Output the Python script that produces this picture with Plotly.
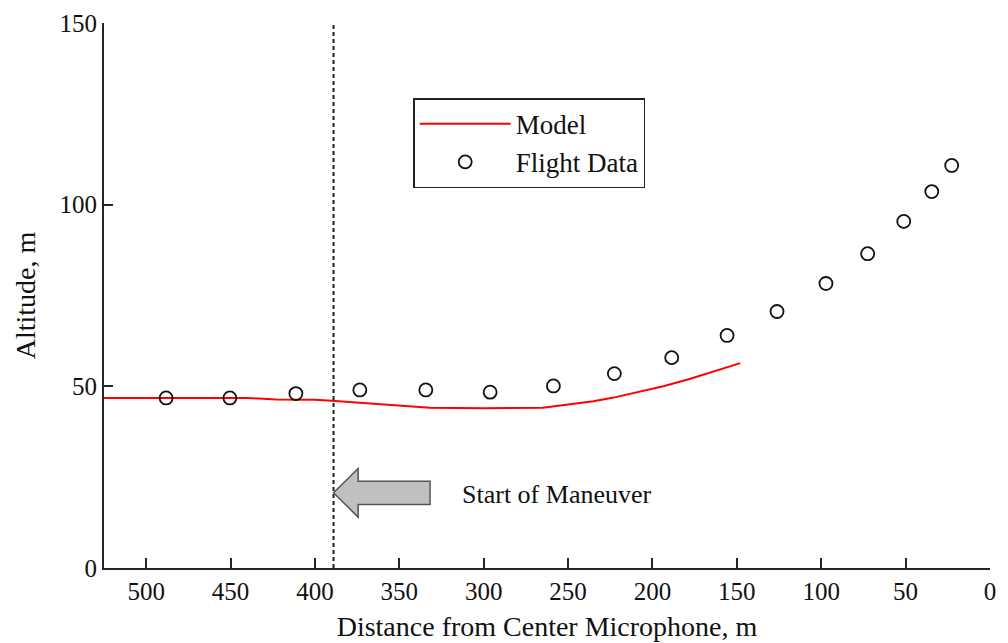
import plotly.graph_objects as go

# Model curve (distance from center microphone, m  -> altitude, m)
model_dist = [525, 480, 440, 423, 400, 390, 370, 352, 332, 300, 265, 250, 235, 223, 208, 193, 178, 164, 148]
model_alt = [46.8, 46.8, 46.8, 46.4, 46.3, 46.0, 45.4, 44.8, 44.1, 44.0, 44.1, 45.0, 45.9, 46.9, 48.4, 50.1, 52.0, 54.1, 56.4]

# Flight data
flight_dist = [488.2, 450.4, 411.3, 373.4, 334.3, 296.2, 258.7, 222.6, 188.6, 155.8, 126.2, 97.2, 72.5, 51.1, 34.5, 22.7]
flight_alt = [46.8, 46.8, 48.0, 49.0, 49.0, 48.4, 50.1, 53.5, 57.9, 64.0, 70.6, 78.3, 86.5, 95.4, 103.6, 110.8]

maneuver_start = 389
x_ticks = [500, 450, 400, 350, 300, 250, 200, 150, 100, 50, 0]
y_ticks = [0, 50, 100, 150]

FONT = "Liberation Serif, Times New Roman, serif"

fig = go.Figure()
fig.add_trace(go.Scatter(
    x=model_dist, y=model_alt, mode="lines", name="Model",
    line=dict(color="#ff0000", width=2),
))
fig.add_trace(go.Scatter(
    x=flight_dist, y=flight_alt, mode="markers", name="Flight Data",
    marker=dict(symbol="circle-open", size=13, color="#111111", line=dict(width=1.8, color="#111111")),
))

# start-of-maneuver dashed line
fig.add_shape(type="line", xref="x", yref="y", x0=maneuver_start, x1=maneuver_start, y0=0, y1=150,
              line=dict(color="#222222", width=2, dash="4px,3px"))

# block arrow
fig.add_shape(type="path", xref="x", yref="y",
              path="M 389 20.7 L 374.4 27.4 L 374.4 23.9 L 331.8 23.9 L 331.8 17.5 L 374.4 17.5 L 374.4 14 Z",
              fillcolor="#c0c0c0", line=dict(color="#555555", width=1.5))
fig.add_annotation(x=314, y=20.2, xref="x", yref="y", text="Start of Maneuver", showarrow=False,
                   xanchor="left", yanchor="middle", font=dict(family=FONT, size=26, color="#111111"))

fig.update_layout(
    width=1000, height=635,
    margin=dict(l=96, r=18, t=15, b=75),
    paper_bgcolor="white", plot_bgcolor="white",
    font=dict(family=FONT, size=25, color="#111111"),
    showlegend=True,
    legend=dict(x=0.349, y=0.862, xanchor="left", yanchor="top",
                bordercolor="#222222", borderwidth=1.5, bgcolor="white",
                font=dict(family=FONT, size=27, color="#111111"),
                itemwidth=91, tracegroupgap=0),
    xaxis=dict(range=[525, 0], tickvals=x_ticks, ticks="inside", ticklen=10, tickwidth=2,
               tickcolor="#262626", showline=True, linecolor="#262626", linewidth=2,
               showgrid=False, zeroline=False, mirror=False, automargin=False,
               title=dict(text="Distance from Center Microphone, m", standoff=12,
                          font=dict(family=FONT, size=28)),
               tickfont=dict(family=FONT, size=25)),
    yaxis=dict(range=[0, 150], tickvals=y_ticks, ticks="inside", ticklen=9, tickwidth=2,
               tickcolor="#262626", showline=True, linecolor="#262626", linewidth=2,
               showgrid=False, zeroline=False, mirror=False, automargin=False,
               title=dict(text="Altitude, m", standoff=16, font=dict(family=FONT, size=28)),
               tickfont=dict(family=FONT, size=25)),
)

fig.write_html("out.html")
